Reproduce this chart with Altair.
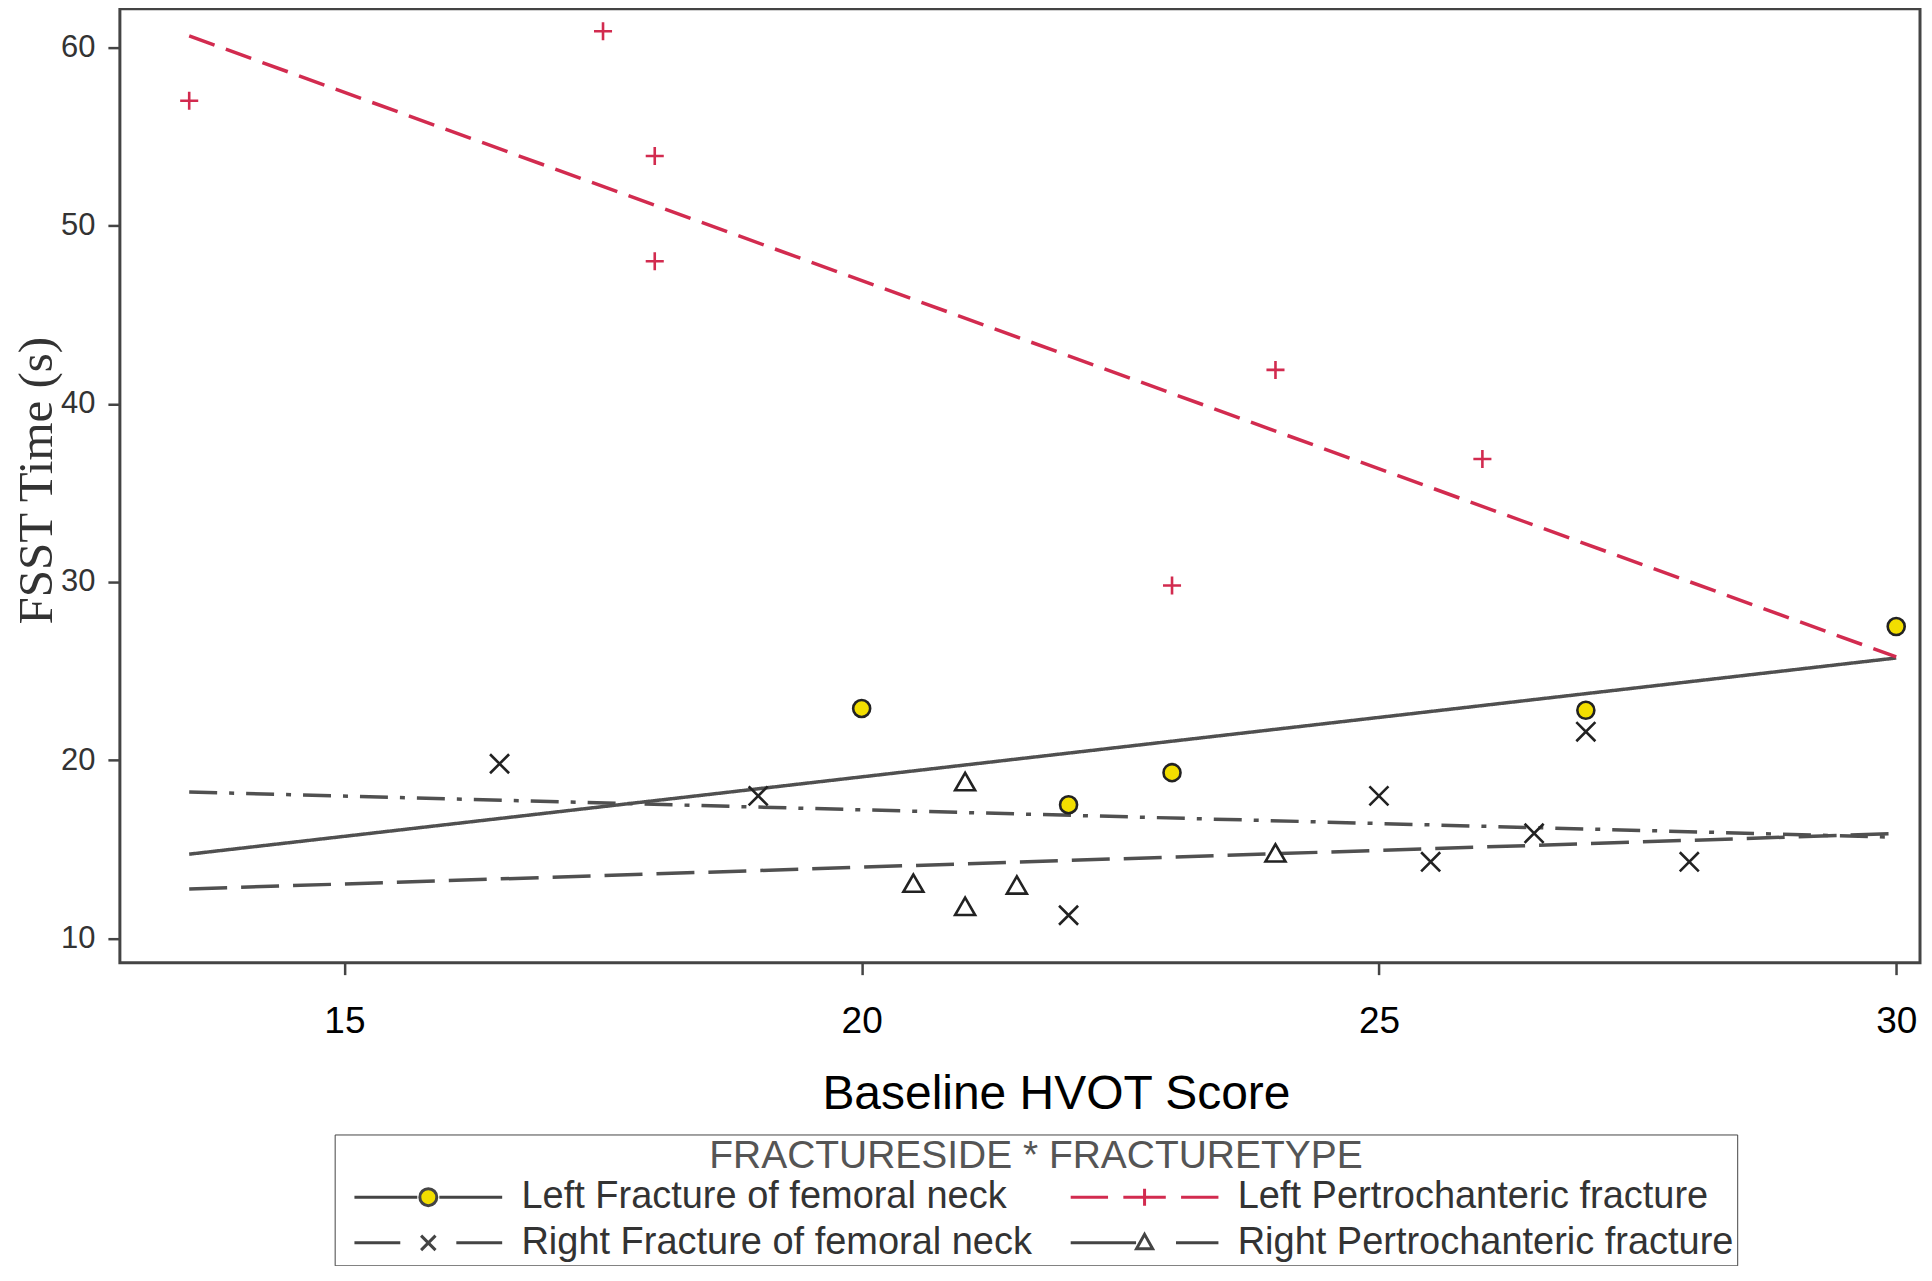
import altair as alt
import pandas as pd

SANS = "Liberation Sans, Arial, Helvetica, sans-serif"
SERIF = "Liberation Serif, Times New Roman, serif"

groups = [
    "Left Fracture of femoral neck",
    "Left Pertrochanteric fracture",
    "Right Fracture of femoral neck",
    "Right Pertrochanteric fracture",
]

# values
lfn_x = [20, 22, 23, 27, 30]
lfn_y = [22.9, 17.5, 19.3, 22.8, 27.5]
lpt_x = [13.5, 17.5, 18, 18, 23, 24, 26]
lpt_y = [57.0, 60.9, 53.9, 48.0, 29.8, 41.9, 36.9]
rfn_x = [16.5, 19, 22, 25, 25.5, 26.5, 27, 28]
rfn_y = [19.8, 18.0, 11.3, 18.0, 14.3, 15.9, 21.6, 14.3]
rpt_x = [20.5, 21, 21, 21.5, 24]
rpt_y = [13.1, 18.8, 11.8, 13.0, 14.8]

x_ticks = [15, 20, 25, 30]
y_ticks = [10, 20, 30, 40, 50, 60]

rows = []
for g, xs, ys in zip(groups, [lfn_x, lpt_x, rfn_x, rpt_x], [lfn_y, lpt_y, rfn_y, rpt_y]):
    for xv, yv in zip(xs, ys):
        rows.append({"group": g, "hvot": xv, "fsst": yv})
df = pd.DataFrame(rows)
x_lo, x_hi = float(df.hvot.min()), float(df.hvot.max())

RED = "#d22b4f"
GRAY = "#505050"
DARK = "#222222"
YELLOW = "#f2de00"

line_colors = [GRAY, RED, GRAY, GRAY]
line_dashes = [[1, 0], [27, 12], [28, 12, 5, 12], [38, 14]]

point_shapes = ["circle", "M-1,0H1M0,-1V1", "M-1,-1L1,1M-1,1L1,-1", "triangle-up"]
point_strokes = [DARK, RED, DARK, DARK]
point_fills = [YELLOW, "transparent", "transparent", "#ffffff"]
point_sizes = [290, 400, 240, 300]


# legend symbol glyphs: line pieces plus the marker, in unit symbol space
def seg(a, b):
    return f"M{a:.3f},0H{b:.3f}"


def circ(cx, r):
    k = 0.5523 * r
    return (f"M{cx - r:.3f},0C{cx - r:.3f},{-k:.3f} {cx - k:.3f},{-r:.3f} {cx:.3f},{-r:.3f}"
            f"C{cx + k:.3f},{-r:.3f} {cx + r:.3f},{-k:.3f} {cx + r:.3f},0"
            f"C{cx + r:.3f},{k:.3f} {cx + k:.3f},{r:.3f} {cx:.3f},{r:.3f}"
            f"C{cx - k:.3f},{r:.3f} {cx - r:.3f},{k:.3f} {cx - r:.3f},0Z")


C = 0.05
legend_paths = [
    seg(-0.82, C - 0.13) + circ(C, 0.1) + seg(C + 0.13, 0.92),
    seg(-0.82, -0.38) + seg(-0.2, 0.3) + seg(0.48, 0.92) + f"M{C:.3f},-0.1V0.1",
    seg(-0.82, -0.28) + f"M{C - 0.085:.3f},-0.085L{C + 0.085:.3f},0.085M{C - 0.085:.3f},0.085L{C + 0.085:.3f},-0.085" + seg(0.38, 0.92),
    seg(-0.82, C - 0.1) + f"M{C:.3f},-0.1L{C + 0.095:.3f},0.07L{C - 0.095:.3f},0.07Z" + seg(0.42, 0.92),
]
legend_strokes = ["#444444", RED, "#444444", "#444444"]
legend_fills = [YELLOW, "transparent", "transparent", "#ffffff"]

x_scale = alt.Scale(domain=[12.83, 30.23], nice=False, zero=False)
y_scale = alt.Scale(domain=[8.64, 62.17], nice=False, zero=False)

x_axis = alt.Axis(
    values=x_ticks, format="d", title="Baseline HVOT Score", grid=False, domain=False,
    labelFont=SANS, labelFontSize=37, labelColor="#000", labelPadding=29, labelFlush=False,
    tickSize=12, tickWidth=2.5, tickColor="#444",
    titleFont=SANS, titleFontSize=48, titleFontWeight="normal", titleColor="#000",
    titleX=937, titleY=146, titleBaseline="alphabetic", titleAlign="center",
)
y_axis = alt.Axis(
    values=y_ticks, format="d", title="FSST Time (s)", grid=False, domain=False,
    labelFont=SANS, labelFontSize=31, labelColor="#333", labelPadding=13,
    tickSize=12, tickWidth=2.5, tickColor="#444",
    titleFont=SERIF, titleFontSize=49, titleFontWeight="normal", titleColor="#333",
    titleX=-68, titleY=472, titleBaseline="alphabetic", titleAlign="center", titleAngle=270,
)

base = alt.Chart(df)

lines = base.transform_regression(
    "hvot", "fsst", groupby=["group"], extent=[x_lo, x_hi]
).mark_line(strokeWidth=3.5).encode(
    x=alt.X("hvot:Q", scale=x_scale, axis=x_axis),
    y=alt.Y("fsst:Q", scale=y_scale, axis=y_axis),
    stroke=alt.Stroke("group:N", scale=alt.Scale(domain=groups, range=line_colors), legend=None),
    strokeDash=alt.StrokeDash("group:N", scale=alt.Scale(domain=groups, range=line_dashes), legend=None),
)

points = base.mark_point(opacity=1, strokeWidth=2.6).encode(
    x=alt.X("hvot:Q", scale=x_scale),
    y=alt.Y("fsst:Q", scale=y_scale),
    shape=alt.Shape("group:N", scale=alt.Scale(domain=groups, range=point_shapes), legend=None),
    stroke=alt.Stroke("group:N", scale=alt.Scale(domain=groups, range=point_strokes), legend=None),
    fill=alt.Fill("group:N", scale=alt.Scale(domain=groups, range=point_fills), legend=None),
    size=alt.Size("group:N", scale=alt.Scale(domain=groups, range=point_sizes), legend=None),
)

leg = alt.Legend(
    title="FRACTURESIDE * FRACTURETYPE", orient="none", legendX=215, legendY=1127,
    direction="horizontal", columns=2, columnPadding=21, rowPadding=7, clipHeight=33, padding=3,
    strokeColor="#444", fillColor="#ffffff",
    titleAnchor="middle", titleFont=SANS, titleFontSize=39, titleFontWeight="normal",
    titleColor="#555", titlePadding=4, titleLimit=1400,
    labelFont=SANS, labelFontSize=38, labelColor="#333", labelLimit=900, labelOffset=11,
    symbolSize=28900, symbolStrokeWidth=3, symbolOpacity=1,
)

legend_layer = base.mark_point(opacity=0).encode(
    x=alt.X("hvot:Q", scale=x_scale),
    y=alt.Y("fsst:Q", scale=y_scale),
    shape=alt.Shape("group:N", scale=alt.Scale(domain=groups, range=legend_paths), legend=leg),
    stroke=alt.Stroke("group:N", scale=alt.Scale(domain=groups, range=legend_strokes), legend=leg),
    fill=alt.Fill("group:N", scale=alt.Scale(domain=groups, range=legend_fills), legend=leg),
)

chart = alt.layer(lines, points, legend_layer).resolve_scale(
    shape="independent", stroke="independent", fill="independent",
    strokeDash="independent", size="independent",
).properties(
    width=1802, height=955,
    padding={"left": 112, "top": 0, "right": 4, "bottom": 303},
    autosize=alt.AutoSizeParams(type="none"),
    background="#ffffff",
).configure_view(stroke="#444", strokeWidth=3)

chart.save("out.html", embed_options={"renderer": "svg", "actions": False})
